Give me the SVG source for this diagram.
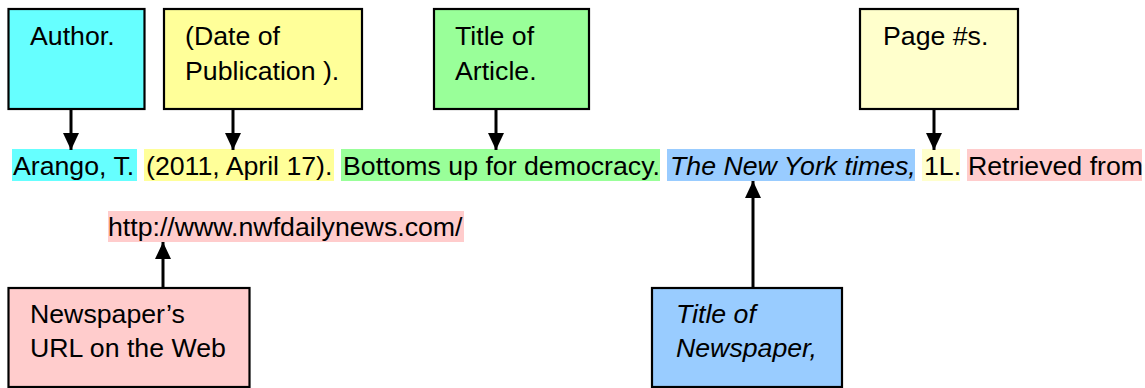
<svg xmlns="http://www.w3.org/2000/svg" width="1145" height="388" viewBox="0 0 1145 388">
<defs>
<style>
.box{stroke:#000;stroke-width:2.2}
.t{font-family:"Liberation Sans",Arial,sans-serif;font-size:26.7px;fill:#000}
.i{font-style:italic}
.c{stroke:#000;stroke-width:3;fill:none}
</style>
<marker id="ah" markerUnits="userSpaceOnUse" markerWidth="18" markerHeight="16" viewBox="0 0 16 15" refX="16" refY="7.5" orient="auto">
<path d="M0,0 L16,7.5 L0,15 Z" fill="#000"/>
</marker>
</defs>
<rect width="1145" height="388" fill="#fff"/>
<g id="citation">
<rect x="12" y="149" width="125" height="32" fill="#66FFFF"/>
<rect x="144" y="149" width="190" height="32" fill="#FFFF99"/>
<rect x="341" y="149" width="319" height="32" fill="#99FF99"/>
<rect x="667" y="149" width="248" height="32" fill="#99CCFF"/>
<rect x="922" y="149" width="38" height="32" fill="#FFFFCC"/>
<rect x="967" y="149" width="175" height="32" fill="#FFCCCC"/>
<rect x="108" y="211" width="356" height="31" fill="#FFCCCC"/>
<text class="t" x="13" y="175">Arango, T.</text>
<text class="t" x="146" y="175">(2011, April 17).</text>
<text class="t" x="343" y="175">Bottoms up for democracy.</text>
<text class="t i" x="670" y="175">The New York times,</text>
<text class="t" x="924" y="175">1L.</text>
<text class="t" x="968" y="175">Retrieved from</text>
<text class="t" x="108" y="236">http://www.nwfdailynews.com/</text>
</g>
<g id="author">
<rect class="box" x="8.5" y="9" width="136" height="100" fill="#66FFFF"/>
<text class="t" x="30" y="45">Author.</text>
</g>
<g id="date">
<rect class="box" x="164" y="9" width="198" height="100" fill="#FFFF99"/>
<text class="t" x="185" y="45">(Date of</text>
<text class="t" x="185" y="80">Publication ).</text>
</g>
<g id="title">
<rect class="box" x="434" y="9" width="155" height="100" fill="#99FF99"/>
<text class="t" x="455" y="45">Title of</text>
<text class="t" x="455" y="80">Article.</text>
</g>
<g id="page">
<rect class="box" x="860" y="9" width="158" height="100" fill="#FFFFCC"/>
<text class="t" x="883" y="45">Page #s.</text>
</g>
<g id="url">
<rect class="box" x="8.5" y="288" width="241" height="99" fill="#FFCCCC"/>
<text class="t" x="30" y="323">Newspaper’s</text>
<text class="t" x="30" y="357">URL on the Web</text>
</g>
<g id="newspaper">
<rect class="box" x="652" y="288" width="190" height="99" fill="#99CCFF"/>
<text class="t i" x="676" y="323">Title of</text>
<text class="t i" x="676" y="357">Newspaper,</text>
</g>
<g id="connectors">
<line class="c" x1="71" y1="110" x2="71" y2="150" marker-end="url(#ah)"/>
<line class="c" x1="233" y1="110" x2="233" y2="150" marker-end="url(#ah)"/>
<line class="c" x1="496" y1="110" x2="496" y2="150" marker-end="url(#ah)"/>
<line class="c" x1="934" y1="110" x2="934" y2="150" marker-end="url(#ah)"/>
<line class="c" x1="163" y1="287" x2="163" y2="242" marker-end="url(#ah)"/>
<line class="c" x1="753" y1="287" x2="753" y2="181" marker-end="url(#ah)"/>
</g>
</svg>
